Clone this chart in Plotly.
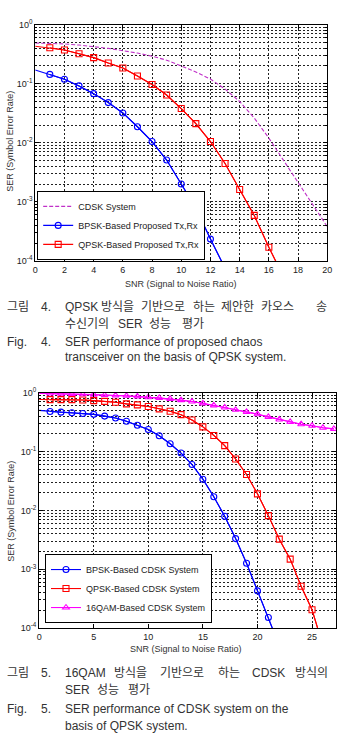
import plotly.graph_objects as go

W, H = 343, 754

# ---------------- Data: Fig. 4 ----------------
snr4_cdsk = list(range(0, 21))
cdsk4 = [0.490, 0.484, 0.473, 0.452, 0.427, 0.398, 0.363, 0.331, 0.293, 0.251,
         0.200, 0.158, 0.120, 0.0813, 0.0501, 0.0263, 0.0120, 0.00513, 0.00214,
         0.000891, 0.000380]
snr4_bpsk = list(range(0, 14))
bpsk4 = [0.171, 0.144, 0.119, 0.092, 0.068, 0.048, 0.032, 0.0187, 0.0105, 0.0051,
         0.0020, 0.00079, 0.000234, 0.000075]
snr4_qpsk = list(range(0, 18))
qpsk4 = [0.433, 0.406, 0.372, 0.323, 0.277, 0.224, 0.185, 0.135, 0.097, 0.0645,
         0.038, 0.0211, 0.0105, 0.00447, 0.00162, 0.00059, 0.00017, 0.000054]

# ---------------- Data: Fig. 5 ----------------
snr5_bpsk = list(range(0, 23))
bpsk5 = [0.501, 0.481, 0.468, 0.457, 0.445, 0.429, 0.401, 0.372, 0.327, 0.281,
         0.237, 0.186, 0.136, 0.0944, 0.0603, 0.0339, 0.0170, 0.00794, 0.00331,
         0.00126, 0.000427, 0.000151, 0.000050]
snr5_qpsk = list(range(0, 27))
qpsk5 = [0.767, 0.764, 0.764, 0.764, 0.755, 0.735, 0.714, 0.689, 0.647, 0.622,
         0.583, 0.533, 0.486, 0.424, 0.344, 0.263, 0.188, 0.126, 0.0748, 0.0407,
         0.0191, 0.00813, 0.00324, 0.00148, 0.000513, 0.000204, 0.000050]
snr5_qam = list(range(0, 28))
qam5 = [0.977, 0.973, 0.964, 0.955, 0.942, 0.929, 0.916, 0.902, 0.887, 0.867,
        0.841, 0.817, 0.787, 0.750, 0.711, 0.661, 0.610, 0.562, 0.513, 0.473,
        0.432, 0.389, 0.351, 0.320, 0.292, 0.275, 0.254, 0.243]

# ---------------- Labels ----------------
y_tickvals = [1e-4, 1e-3, 1e-2, 1e-1, 1]
y_ticktext = ["10<sup>-4</sup>", "10<sup>-3</sup>", "10<sup>-2</sup>", "10<sup>-1</sup>", "10<sup>0</sup>"]
x4_ticks = [0, 2, 4, 6, 8, 10, 12, 14, 16, 18, 20]
x5_ticks = [0, 5, 10, 15, 20, 25]
y_minor = [k * 10.0 ** e for e in range(-4, 0) for k in range(2, 10)]

names4 = ["CDSK System", "BPSK-Based Proposed Tx,Rx", "QPSK-Based Proposed Tx,Rx"]
names5 = ["BPSK-Based CDSK System", "QPSK-Based CDSK System", "16QAM-Based CDSK System"]
x_title = "SNR (Signal to Noise Ratio)"
y_title = "SER (Symbol Error Rate)"

BLUE, RED, MAG, PURP = "#0000ff", "#ff0000", "#ff00ff", "#c030c8"
FONT = "Liberation Sans, Arial, sans-serif"
KFONT = "Liberation Sans, Noto Sans CJK KR, sans-serif"

fig = go.Figure()


def add_series(x, y, name, color, symbol, xa, ya, legend, dash="solid", markers=True):
    # continuous line from SNR = 0
    fig.add_trace(go.Scatter(x=x, y=y, mode="lines", line=dict(color=color, width=1.1, dash=dash),
                             xaxis=xa, yaxis=ya, showlegend=not markers, name=name,
                             legend=legend, hoverinfo="skip"))
    if markers:
        fig.add_trace(go.Scatter(x=x[1:], y=y[1:], mode="lines+markers", name=name,
                                 line=dict(color=color, width=1.1),
                                 marker=dict(symbol=symbol, size=6, color=color,
                                             line=dict(color=color, width=1.1)),
                                 xaxis=xa, yaxis=ya, legend=legend))


add_series(snr4_cdsk, cdsk4, names4[0], PURP, None, "x", "y", "legend", dash="4px,2px", markers=False)
add_series(snr4_bpsk, bpsk4, names4[1], BLUE, "circle-open", "x", "y", "legend")
add_series(snr4_qpsk, qpsk4, names4[2], RED, "square-open", "x", "y", "legend")

add_series(snr5_bpsk, bpsk5, names5[0], BLUE, "circle-open", "x2", "y2", "legend2")
add_series(snr5_qpsk, qpsk5, names5[1], RED, "square-open", "x2", "y2", "legend2")
add_series(snr5_qam, qam5, names5[2], MAG, "triangle-up-open", "x2", "y2", "legend2")

GRID = dict(showgrid=True, gridcolor="#222222", griddash="2px,2px", gridwidth=1)
common_x = dict(showline=True, linecolor="#000", linewidth=1, mirror="allticks", ticks="inside",
                ticklen=4, tickcolor="#000", zeroline=False, tickfont=dict(family=FONT, size=9, color="#222"),
                tickmode="array", **GRID)
common_y = dict(type="log", range=[-4, 0], tickmode="array", tickvals=y_tickvals, ticktext=y_ticktext,
                showline=True, linecolor="#000", linewidth=1, mirror="allticks", ticks="inside",
                ticklen=4, tickcolor="#000", zeroline=False, tickfont=dict(family=FONT, size=9, color="#222"),
                minor=dict(tickmode="array", tickvals=y_minor, showgrid=True, gridcolor="#222222",
                           griddash="2px,2px", gridwidth=1, ticks="inside", ticklen=2, tickcolor="#000"),
                **GRID)

fig.update_layout(
    width=W, height=H, margin=dict(l=0, r=0, t=0, b=0),
    paper_bgcolor="white", plot_bgcolor="white",
    xaxis=dict(domain=[33 / W, 332 / W], range=[0, 20], anchor="y", tickvals=x4_ticks, **common_x),
    yaxis=dict(domain=[1 - 258 / H, 1 - 18 / H], anchor="x", **common_y),
    xaxis2=dict(domain=[37 / W, 341 / W], range=[0, 27.2], anchor="y2", tickvals=x5_ticks, **common_x),
    yaxis2=dict(domain=[1 - 631 / H, 1 - 392 / H], anchor="x2", **common_y),
    legend=dict(x=35 / W, y=1 - 257 / H, xanchor="left", yanchor="bottom", bgcolor="white",
                bordercolor="#000", borderwidth=1, font=dict(family=FONT, size=9, color="#222"),
                tracegroupgap=0, itemwidth=30),
    legend2=dict(x=43 / W, y=1 - 626 / H, xanchor="left", yanchor="bottom", bgcolor="white",
                 bordercolor="#000", borderwidth=1, font=dict(family=FONT, size=9, color="#222"),
                 tracegroupgap=0, itemwidth=30),
    showlegend=True,
)

ann = []
# axis titles
ann.append(dict(text=x_title, x=182 / W, y=1 - 281 / H, xref="paper", yref="paper", showarrow=False,
                xanchor="center", yanchor="middle", font=dict(family=FONT, size=9, color="#333")))
ann.append(dict(text=y_title, x=7 / W, y=1 - 136 / H, xref="paper", yref="paper", showarrow=False,
                xanchor="center", yanchor="middle", textangle=-90, font=dict(family=FONT, size=9, color="#333")))
ann.append(dict(text=x_title, x=187 / W, y=1 - 652 / H, xref="paper", yref="paper", showarrow=False,
                xanchor="center", yanchor="middle", font=dict(family=FONT, size=9, color="#333")))
ann.append(dict(text=y_title, x=8 / W, y=1 - 512 / H, xref="paper", yref="paper", showarrow=False,
                xanchor="center", yanchor="middle", textangle=-90, font=dict(family=FONT, size=9, color="#333")))

CAP = "#333333"


def word(txt, px, py, size=12):
    ann.append(dict(text=txt, x=px / W, y=1 - py / H, xref="paper", yref="paper", showarrow=False,
                    xanchor="left", yanchor="middle", font=dict(family=KFONT, size=size, color=CAP)))


# Fig. 4 caption
for t, px in [("그림", 2), ("4.", 37), ("QPSK", 61), ("방식을", 98), ("기반으로", 139), ("하는", 192),
              ("제안한", 221), ("카오스", 262), ("송", 318)]:
    word(t, px, 305)
for t, px in [("수신기의", 61), ("SER", 116), ("성능", 147), ("평가", 181)]:
    word(t, px, 322)
word("Fig.", 2, 340)
word("4.", 37, 340)
word("SER performance of proposed chaos", 61, 340)
word("transceiver on the basis of QPSK system.", 61, 356)

# Fig. 5 caption
for t, px in [("그림", 2), ("5.", 37), ("16QAM", 61), ("방식을", 112), ("기반으로", 159), ("하는", 218),
              ("CDSK", 253), ("방식의", 297)]:
    word(t, px, 677)
for t, px in [("SER", 61), ("성능", 94), ("평가", 126)]:
    word(t, px, 694)
word("Fig.", 2, 713)
word("5.", 37, 713)
word("SER performance of CDSK system on the", 61, 713)
word("basis of QPSK system.", 61, 731)

fig.update_layout(annotations=ann)
fig.write_html("out.html")
